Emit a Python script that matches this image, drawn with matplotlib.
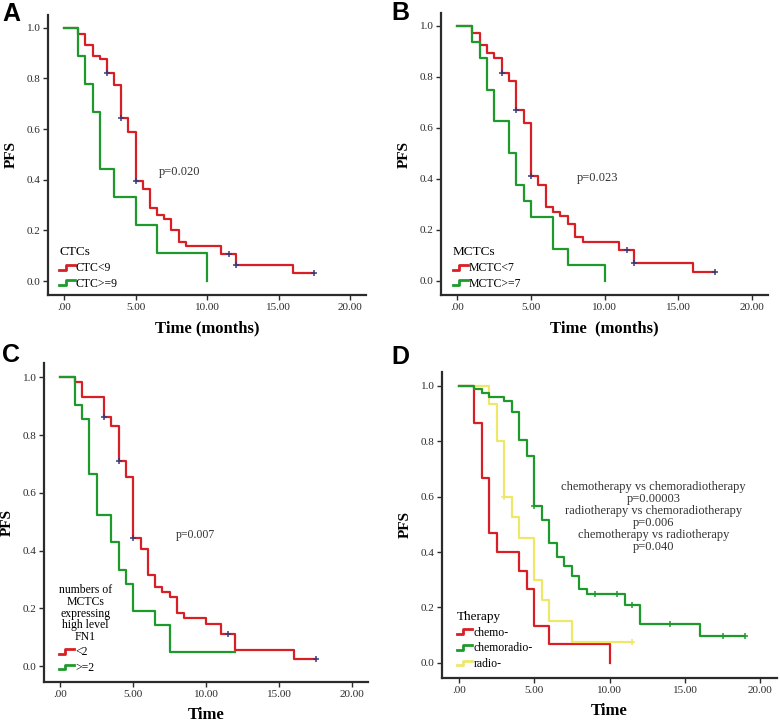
import matplotlib.pyplot as plt
from matplotlib.legend_handler import HandlerBase
from matplotlib.lines import Line2D

plt.rcParams['font.family'] = ['Liberation Serif', 'DejaVu Serif']

RED = '#d81f26'
GREEN = '#1e9a2c'
YELLOW = '#eee86a'
CENS = '#3a3a78'

# --- dados (tempo em meses, sobrevida) ---
a_red_t = [0, 1.0, 1.5, 2.0, 2.5, 3.0, 3.5, 4.0, 4.5, 5.0, 5.5, 6.0, 6.5, 7.0, 7.5, 8.0, 8.5, 11.0, 12.0, 16.0, 17.5]
a_red_s = [1.0, 0.975, 0.93, 0.89, 0.875, 0.82, 0.775, 0.645, 0.59, 0.395, 0.365, 0.29, 0.26, 0.245, 0.2, 0.155, 0.138, 0.106, 0.063, 0.032, 0.032]
a_cens_t = [3.0, 4.0, 5.0, 11.5, 12.0, 17.5]
a_cens_s = [0.82, 0.645, 0.395, 0.106, 0.063, 0.032]
a_green_t = [0, 1.0, 1.5, 2.0, 2.5, 3.5, 5.0, 6.5, 10.0]
a_green_s = [1.0, 0.889, 0.778, 0.667, 0.444, 0.333, 0.222, 0.111, 0.0]

b_red_t = [0, 1.0, 1.5, 2.0, 2.5, 3.0, 3.5, 4.0, 4.5, 5.0, 5.5, 6.0, 6.5, 7.0, 7.5, 8.0, 8.5, 11.0, 12.0, 16.0, 17.5]
b_red_s = [1.0, 0.971, 0.925, 0.895, 0.875, 0.814, 0.784, 0.67, 0.62, 0.41, 0.376, 0.29, 0.272, 0.255, 0.222, 0.171, 0.154, 0.12, 0.072, 0.037, 0.037]
b_cens_t = [3.0, 4.0, 5.0, 11.5, 12.0, 17.5]
b_cens_s = [0.814, 0.67, 0.41, 0.12, 0.072, 0.037]
b_green_t = [0, 1.0, 1.5, 2.0, 2.5, 3.5, 4.0, 4.5, 5.0, 6.5, 7.5, 10.0]
b_green_s = [1.0, 0.9375, 0.875, 0.75, 0.625, 0.5, 0.375, 0.3125, 0.25, 0.125, 0.0625, 0.0]

c_red_t = [0, 1.0, 1.5, 3.0, 3.5, 4.0, 4.5, 5.0, 5.5, 6.0, 6.5, 7.0, 7.5, 8.0, 8.5, 10.0, 11.0, 12.0, 16.0, 17.5]
c_red_s = [1.0, 0.984, 0.932, 0.863, 0.831, 0.709, 0.655, 0.443, 0.405, 0.315, 0.275, 0.257, 0.238, 0.185, 0.167, 0.145, 0.11, 0.057, 0.025, 0.025]
c_cens_t = [3.0, 4.0, 5.0, 11.5, 17.5]
c_cens_s = [0.863, 0.709, 0.443, 0.11, 0.025]
c_green_t = [0, 1.0, 1.5, 2.0, 2.5, 3.5, 4.0, 4.5, 5.0, 6.5, 7.5, 12.0]
c_green_s = [1.0, 0.905, 0.857, 0.667, 0.524, 0.429, 0.333, 0.286, 0.19, 0.143, 0.048, 0.048]

d_chemo_t = [0, 1.0, 1.5, 2.0, 2.5, 4.0, 4.5, 5.0, 6.0, 10.0]
d_chemo_s = [1.0, 0.867, 0.667, 0.467, 0.4, 0.333, 0.267, 0.133, 0.067, 0.0]
d_chrad_t = [0, 1.0, 1.5, 2.0, 3.0, 3.5, 4.0, 4.5, 5.0, 5.5, 6.0, 6.5, 7.0, 7.5, 8.0, 8.5, 11.0, 12.0, 16.0, 19.0]
d_chrad_s = [1.0, 0.99, 0.975, 0.96, 0.945, 0.905, 0.805, 0.745, 0.565, 0.517, 0.433, 0.383, 0.35, 0.315, 0.267, 0.25, 0.21, 0.14, 0.095, 0.095]
d_chrad_ct = [5.0, 9.0, 10.5, 11.5, 14.0, 17.5, 19.0]
d_chrad_cs = [0.565, 0.25, 0.25, 0.21, 0.14, 0.095, 0.095]
d_radio_t = [0, 2.0, 2.5, 3.0, 3.5, 4.0, 5.0, 5.5, 6.0, 7.5, 11.5]
d_radio_s = [1.0, 0.933, 0.8, 0.6, 0.525, 0.45, 0.3, 0.225, 0.15, 0.075, 0.075]
d_radio_ct = [3.0, 11.5]
d_radio_cs = [0.6, 0.075]

x_ticks = [0, 5, 10, 15, 20]
x_labels = ['.00', '5.00', '10.00', '15.00', '20.00']
y_ticks = [0.0, 0.2, 0.4, 0.6, 0.8, 1.0]
y_labels = ['0.0', '0.2', '0.4', '0.6', '0.8', '1.0']


class StepHandler(HandlerBase):
    # simbolo de degrau, como no SPSS
    def create_artists(self, legend, orig_handle, xdescent, ydescent,
                       width, height, fontsize, trans):
        x0 = -xdescent
        xs = [x0, x0 + 0.4 * width, x0 + 0.4 * width, x0 + width]
        ys = [0.15 * height, 0.15 * height, 0.75 * height, 0.75 * height]
        ln = Line2D(xs, ys, color=orig_handle.get_color(), lw=2.0)
        ln.set_transform(trans)
        return [ln]


W, H = 780, 723
fig = plt.figure(figsize=(W / 100, H / 100), dpi=100)


def make_ax(l, r, t, b):
    return fig.add_axes([l / W, 1 - b / H, (r - l) / W, (b - t) / H])


def style(ax, xlabel):
    ax.set_xlim(-1.12, 21.1)
    ax.set_ylim(-0.055, 1.05)
    for s in ['top', 'right']:
        ax.spines[s].set_visible(False)
    for s in ['left', 'bottom']:
        ax.spines[s].set_linewidth(1.6)
        ax.spines[s].set_color('#2b2b2b')
    ax.set_xticks(x_ticks)
    ax.set_xticklabels(x_labels)
    ax.set_yticks(y_ticks)
    ax.set_yticklabels(y_labels)
    ax.tick_params(direction='out', length=3.5, width=1.0, labelsize=8, colors='#2b2b2b', pad=2)
    ax.set_xlabel(xlabel, fontsize=12, fontweight='bold', labelpad=6)
    ax.set_ylabel('PFS', fontsize=11, fontweight='bold', labelpad=6)


def km(ax, t, s, color, label, z=2):
    ln, = ax.step(t, s, where='post', color=color, lw=1.6, label=label, zorder=z)
    return ln


def cens(ax, t, s, color):
    ax.plot(t, s, ls='none', marker='+', ms=4.5, mew=1.1, color=color, zorder=4)


def leg(ax, handles, title, anchor, tsize=9.5):
    lg = ax.legend(handles=handles, title=title, loc='lower left', bbox_to_anchor=anchor,
                   frameon=False, fontsize=8.5, title_fontsize=tsize, handlelength=1.3,
                   handletextpad=0.1, labelspacing=0.3, borderpad=0.2, alignment='left',
                   handler_map={Line2D: StepHandler()})
    return lg


# --- A ---
axA = make_ax(48, 366, 15, 295)
style(axA, 'Time (months)')
h1 = km(axA, a_red_t, a_red_s, RED, 'CTC<9')
h2 = km(axA, a_green_t, a_green_s, GREEN, 'CTC>=9')
cens(axA, a_cens_t, a_cens_s, CENS)
axA.text(6.6, 0.42, 'p=0.020', fontsize=9, color='#333333')
leg(axA, [h1, h2], 'CTCs', (0.01, -0.01))

# --- B ---
axB = make_ax(441, 768, 13, 295)
style(axB, 'Time  (months)')
h1 = km(axB, b_red_t, b_red_s, RED, 'MCTC<7')
h2 = km(axB, b_green_t, b_green_s, GREEN, 'MCTC>=7')
cens(axB, b_cens_t, b_cens_s, CENS)
axB.text(8.1, 0.39, 'p=0.023', fontsize=9, color='#333333')
leg(axB, [h1, h2], 'MCTCs', (0.01, -0.01))

# --- C ---
axC = make_ax(44, 368, 363, 682)
style(axC, 'Time')
h1 = km(axC, c_red_t, c_red_s, RED, '<2')
h2 = km(axC, c_green_t, c_green_s, GREEN, '>=2')
cens(axC, c_cens_t, c_cens_s, CENS)
axC.text(7.9, 0.445, 'p=0.007', fontsize=8.5, color='#333333')
lgC = leg(axC, [h1, h2], 'numbers of\nMCTCs\nexpressing\nhigh level\nFN1', (0.02, 0.0), tsize=8.5)
lgC.get_title().set_multialignment('center')
lgC.get_title().set_linespacing(0.95)

# --- D ---
axD = make_ax(442, 777, 372, 678)
style(axD, 'Time')
h1 = km(axD, d_chemo_t, d_chemo_s, RED, 'chemo-', z=2)
h2 = km(axD, d_chrad_t, d_chrad_s, GREEN, 'chemoradio-', z=3)
h3 = km(axD, d_radio_t, d_radio_s, YELLOW, 'radio-', z=2.5)
cens(axD, d_chrad_ct, d_chrad_cs, GREEN)
cens(axD, d_radio_ct, d_radio_cs, YELLOW)
axD.text(12.9, 0.527, 'chemotherapy vs chemoradiotherapy\np=0.00003\nradiotherapy vs chemoradiotherapy\n'
         'p=0.006\nchemotherapy vs radiotherapy\np=0.040',
         fontsize=9, ha='center', va='center', linespacing=1.0, color='#333333')
leg(axD, [h1, h2, h3], 'Therapy', (0.02, 0.0))

# letras dos paineis
for lt, x, y in [('A', 2, 2), ('B', 391, 1), ('C', 2, 343), ('D', 391, 345)]:
    fig.text(x / W, 1 - y / H, lt, fontsize=18, fontweight='bold',
             family='Liberation Sans', ha='left', va='top')

plt.savefig('out.png', dpi=100)
